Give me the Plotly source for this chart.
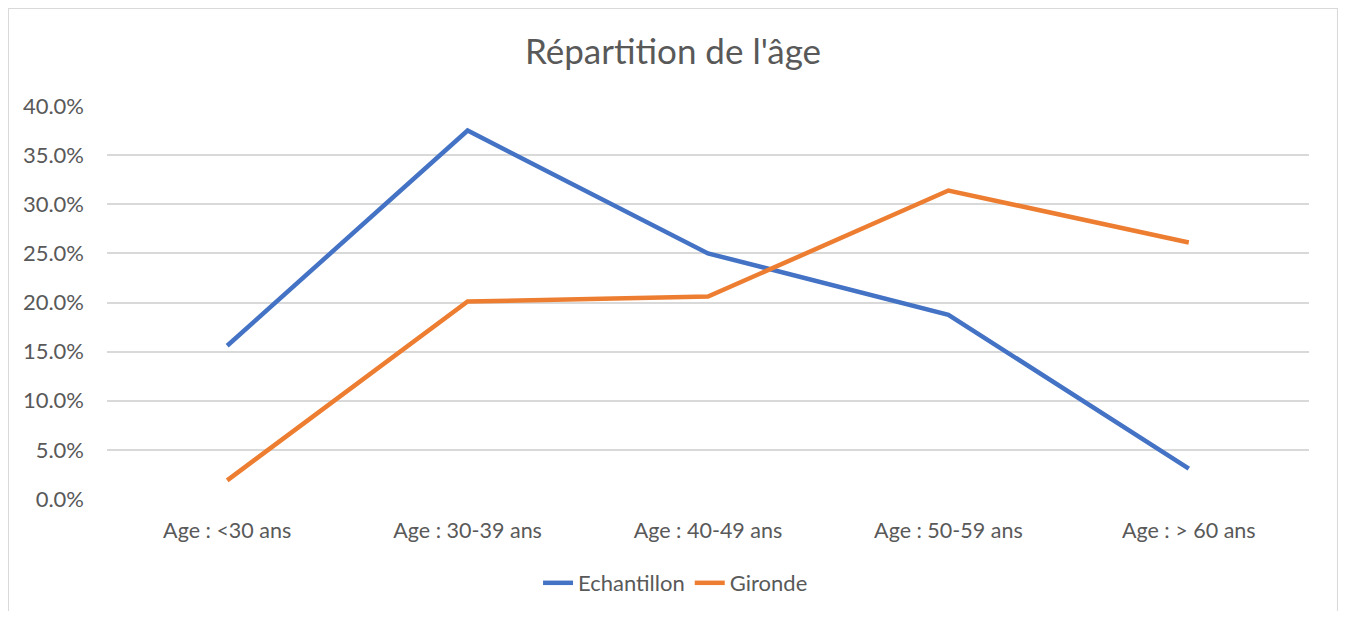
import plotly.graph_objects as go

# categories and values
categories = ["Age : <30 ans", "Age : 30-39 ans", "Age : 40-49 ans",
              "Age : 50-59 ans", "Age : > 60 ans"]
echantillon = [0.156, 0.375, 0.25, 0.1875, 0.031]
gironde = [0.019, 0.201, 0.206, 0.314, 0.261]

tick_vals = [0, 0.05, 0.10, 0.15, 0.20, 0.25, 0.30, 0.35, 0.40]


def build_figure():
    """Line chart of the age distribution"""
    fig = go.Figure()

    fig.add_trace(go.Scatter(x=categories, y=echantillon, mode='lines',
                             name='Echantillon',
                             line=dict(color='#4472C4', width=4.5)))
    fig.add_trace(go.Scatter(x=categories, y=gironde, mode='lines',
                             name='Gironde',
                             line=dict(color='#ED7D31', width=4.5)))

    # light grey frame around the whole chart
    fig.add_shape(type='rect', xref='paper', yref='paper',
                  x0=-0.0824, x1=1.0241, y0=-0.33, y1=1.2494,
                  line=dict(color='#D9D9D9', width=2))

    # page body has an 8px margin, so the figure is a bit smaller
    fig.update_layout(
        width=1330, height=603,
        margin=dict(l=99, r=29, t=98, b=112),
        paper_bgcolor='white', plot_bgcolor='white',
        font=dict(family='Lato', color='#595959', size=22),
        title=dict(text="Répartition de l'âge", x=0.5, xanchor='center',
                   y=0.927, yanchor='middle',
                   font=dict(size=35, color='#595959')),
        legend=dict(orientation='h', x=0.473, xanchor='center',
                    yref='container', y=0.0464, yanchor='middle',
                    font=dict(size=22, color='#595959')),
        showlegend=True,
    )
    fig.update_xaxes(range=[-0.5, 4.5], showgrid=False, zeroline=False,
                     showline=False, ticks='', tickfont=dict(size=21.5),
                     ticklabelstandoff=16)
    fig.update_yaxes(range=[0, 0.40], tickvals=tick_vals, tickformat='.1%',
                     showgrid=True, gridcolor='#D9D9D9', gridwidth=1.5,
                     zeroline=False, showline=False, ticks='',
                     tickfont=dict(size=22), ticklabelstandoff=22)
    return fig


if __name__ == '__main__':
    fig = build_figure()
    fig.write_html("out.html")
